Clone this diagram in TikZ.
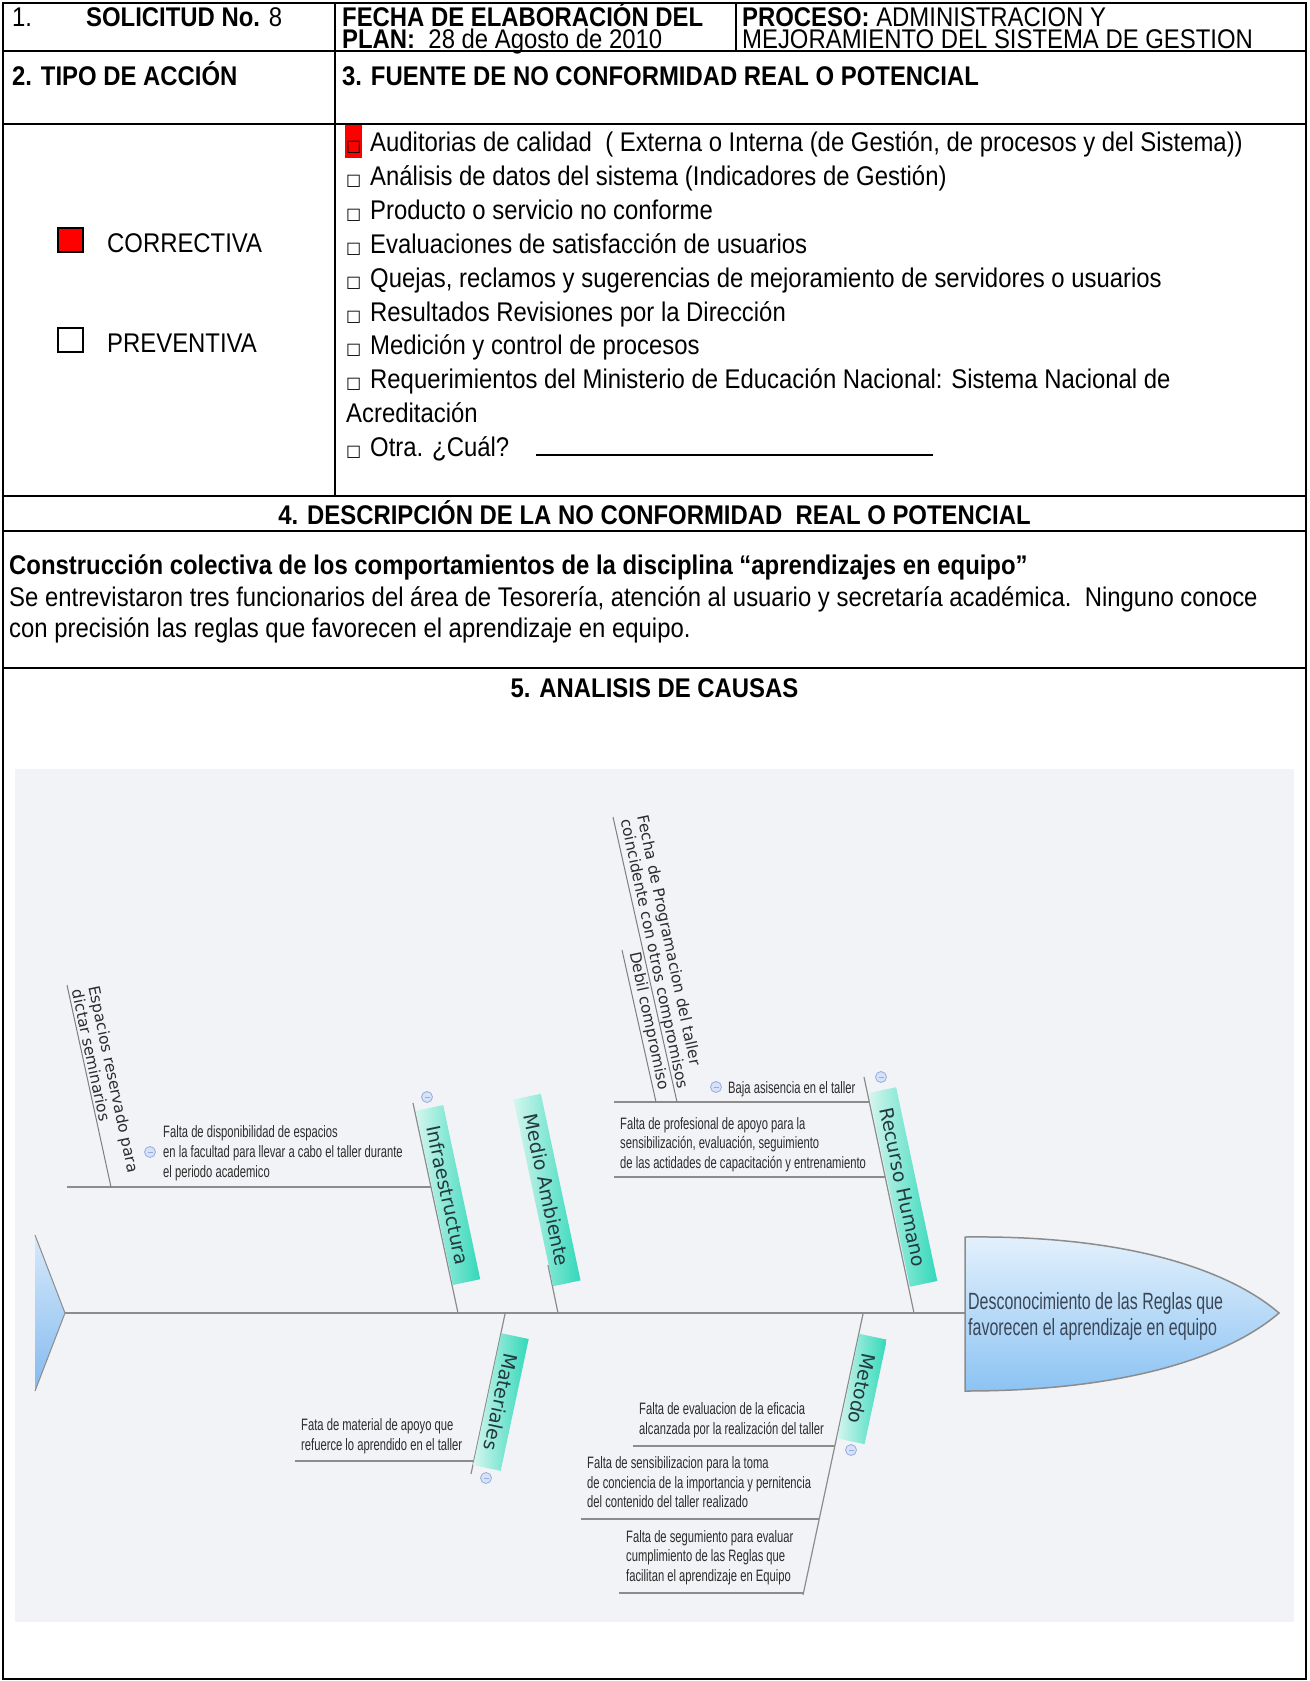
\documentclass[tikz,border=0pt]{standalone}
\usepackage{fontspec}
\setmainfont{Liberation Sans}
\newfontfamily\tabfont{Liberation Sans}[FakeStretch=0.885]
\newfontfamily\condfont{Liberation Sans}[FakeStretch=0.68]
\newfontfamily\dvfont{DejaVu Sans}
\definecolor{bgc}{RGB}{242,243,246}
\definecolor{linec}{RGB}{140,140,140}
\definecolor{txtc}{RGB}{45,45,45}
\definecolor{tealL}{RGB}{212,246,238}
\definecolor{tealD}{RGB}{50,216,186}
\definecolor{lblc}{RGB}{35,57,63}
\definecolor{headT}{RGB}{228,241,252}
\definecolor{headB}{RGB}{140,195,243}
\definecolor{tailT}{RGB}{214,233,251}
\definecolor{tailB}{RGB}{132,186,238}
\definecolor{headtxt}{RGB}{58,70,86}
\definecolor{iconf}{RGB}{214,226,247}
\definecolor{iconb}{RGB}{150,172,222}
\definecolor{boxred}{RGB}{255,0,0}
\begin{document}
\begin{tikzpicture}[x=1pt,y=-1pt,
  tabtxt/.style={font=\tabfont\fontsize{27}{27}\selectfont, inner sep=0pt, anchor=base west},
  tabbold/.style={font=\tabfont\bfseries\fontsize{27}{27}\selectfont, inner sep=0pt, anchor=base west},
  boxsym/.style={font=\dvfont\fontsize{16}{16}\selectfont, inner sep=0pt, anchor=base west},
  tline/.style={line width=2.7pt, draw=black},
  fbsub/.style={font=\condfont\fontsize{16.5}{16.5}\selectfont, text=txtc, inner sep=0pt, anchor=base west},
  fbrot/.style={font=\dvfont\fontsize{15.5}{17}\selectfont, text=txtc, rotate=-78, align=left, inner sep=1pt, anchor=south west},
  fblbl/.style={font=\dvfont\fontsize{19}{19}\selectfont, text=lblc, minimum height=28pt, inner xsep=18pt, inner ysep=0pt, left color=tealL, right color=tealD},
  fbbone/.style={draw=linec, line width=1.2pt},
  fbsubline/.style={draw=linec, line width=2pt},
  fbsubsub/.style={draw=linec!90!black, line width=1pt},
  fbminus/.pic={\draw[draw=iconb, fill=iconf, line width=0.8pt] (0,0) circle (5.5pt); \draw[iconb, line width=0.9pt] (-2.5,0) -- (2.5,0);}
]
\useasboundingbox (0,0) rectangle (1309,1681);
\fill[white] (0,0) rectangle (1309,1681);

% ---------- table lines ----------
\draw[tline] (3,3) rectangle (1306,1679);
\draw[tline] (3,51) -- (1306,51);
\draw[tline] (3,124) -- (1306,124);
\draw[tline] (3,496) -- (1306,496);
\draw[tline] (3,531) -- (1306,531);
\draw[tline] (3,668) -- (1306,668);
\draw[tline] (335,3) -- (335,496);
\draw[tline] (736,3) -- (736,51);

% ---------- row 1 ----------
\node[tabtxt] (n1) at (12,26) {1.};
\node[tabtxt] (sol) at (86,26) {\textbf{SOLICITUD No.} 8};
\node[tabbold] (fe1) at (342,26) {FECHA DE ELABORACIÓN DEL};
\node[tabtxt] (fe2) at (342,48) {\textbf{PLAN:}\ \ 28 de Agosto de 2010};
\node[tabtxt] (pr1) at (742,26) {\textbf{PROCESO:} ADMINISTRACION Y};
\node[tabtxt] (pr2) at (742,48) {MEJORAMIENTO DEL SISTEMA DE GESTION};

% ---------- row 2 ----------
\node[tabbold] (h2) at (12,85) {2. TIPO DE ACCIÓN};
\node[tabbold] (h3) at (342,85) {3. FUENTE DE NO CONFORMIDAD REAL O POTENCIAL};

% ---------- row 3 ----------
\draw[fill=boxred, line width=1.8pt] (58,228) rectangle (83,252);
\node[tabtxt] (corr) at (107,252) {CORRECTIVA};
\draw[fill=white, line width=1.8pt] (58,328) rectangle (83,352);
\node[tabtxt] (prev) at (107,352) {PREVENTIVA};

\fill[boxred] (345,125) rectangle (362,158);
\node[boxsym] (b1) at (346,151) {□};
\node[tabtxt] (i1) at (370,151) {Auditorias de calidad\ \ ( Externa o Interna (de Gestión, de procesos y del Sistema))};
\node[boxsym] (b2) at (346,185) {□};
\node[tabtxt] (i2) at (370,185) {Análisis de datos del sistema (Indicadores de Gestión)};
\node[boxsym] (b3) at (346,219) {□};
\node[tabtxt] (i3) at (370,219) {Producto o servicio no conforme};
\node[boxsym] (b4) at (346,253) {□};
\node[tabtxt] (i4) at (370,253) {Evaluaciones de satisfacción de usuarios};
\node[boxsym] (b5) at (346,287) {□};
\node[tabtxt] (i5) at (370,287) {Quejas, reclamos y sugerencias de mejoramiento de servidores o usuarios};
\node[boxsym] (b6) at (346,321) {□};
\node[tabtxt] (i6) at (370,321) {Resultados Revisiones por la Dirección};
\node[boxsym] (b7) at (346,354) {□};
\node[tabtxt] (i7) at (370,354) {Medición y control de procesos};
\node[boxsym] (b8) at (346,388) {□};
\node[tabtxt] (i8) at (370,388) {Requerimientos del Ministerio de Educación Nacional: Sistema Nacional de};
\node[tabtxt] (i9) at (346,422) {Acreditación};
\node[boxsym] (b10) at (346,456) {□};
\node[tabtxt] (i10) at (370,456) {Otra. ¿Cuál?};
\coordinate (ulA) at (536,455);
\coordinate (ulB) at (933,455);
\draw[line width=2pt] (ulA) -- (ulB);

% ---------- section 4 ----------
\node[tabbold, anchor=base] (h4) at (654.5,524) {4. DESCRIPCIÓN DE LA NO CONFORMIDAD\ \ REAL O POTENCIAL};
\node[tabbold] (d1) at (9,574) {Construcción colectiva de los comportamientos de la disciplina “aprendizajes en equipo”};
\node[tabtxt] (d2) at (9,606) {Se entrevistaron tres funcionarios del área de Tesorería, atención al usuario y secretaría académica.\ \ Ninguno conoce};
\node[tabtxt] (d3) at (9,637) {con precisión las reglas que favorecen el aprendizaje en equipo.};

% ---------- section 5 ----------
\node[tabbold, anchor=base] (h5) at (654.5,697) {5. ANALISIS DE CAUSAS};

% ---------- fishbone ----------
\fill[bgc] (15,769) rectangle (1294,1622);

% tail
\coordinate (tailT) at (35,1235);
\coordinate (tailA) at (65,1313);
\coordinate (tailB) at (35,1391);
\shade[top color=tailT, bottom color=tailB] (tailT) -- (tailA) -- (tailB) -- cycle;
\draw[draw=linec, line width=1pt] (tailT) -- (tailA) -- (tailB);

% head
\coordinate (headL) at (965,1313);
\shade[top color=headT, bottom color=headB, draw=linec, line width=1.5pt]
  (965,1237) .. controls (1140,1235) and (1235,1275) .. (1279,1313)
  .. controls (1235,1351) and (1140,1391) .. (965,1391) -- cycle;
\node[font=\condfont\fontsize{23.5}{23.5}\selectfont, text=headtxt, inner sep=0pt, anchor=base west] (ht1) at (968,1309) {Desconocimiento de las Reglas que};
\node[font=\condfont\fontsize{23.5}{23.5}\selectfont, text=headtxt, inner sep=0pt, anchor=base west] (ht2) at (968,1335) {favorecen el aprendizaje en equipo};

% spine
\draw[draw=linec, line width=2pt] (tailA) -- (headL);

% bone coordinates
\coordinate (S1) at (458,1313); \coordinate (T1) at (413,1103);
\coordinate (S2) at (558,1313); \coordinate (T2) at (548,1265);
\coordinate (S3) at (914,1313); \coordinate (T3) at (864,1077);
\coordinate (S4) at (505,1314); \coordinate (B4) at (471,1474);
\coordinate (S5) at (863,1314); \coordinate (B5) at (803,1595);
\draw[fbbone] (S1) -- (T1);
\draw[fbbone] (S2) -- (T2);
\draw[fbbone] (S3) -- (T3);
\draw[fbbone] (S4) -- (B4);
\draw[fbbone] (S5) -- (B5);

% sub-cause lines
\coordinate (inA) at (67,1187);   \coordinate (inB) at (431,1187);
\coordinate (baA) at (614,1102);  \coordinate (baB) at (869,1102);
\coordinate (prA) at (614,1177);  \coordinate (prB) at (885,1177);
\coordinate (maA) at (295,1461);  \coordinate (maB) at (474,1461);
\coordinate (m1A) at (633,1446);  \coordinate (m1B) at (835,1446);
\coordinate (m2A) at (581,1519);  \coordinate (m2B) at (819,1519);
\coordinate (m3A) at (619,1593);  \coordinate (m3B) at (804,1593);
\draw[fbsubline] (inA) -- (inB);
\draw[fbsubline] (baA) -- (baB);
\draw[fbsubline] (prA) -- (prB);
\draw[fbsubline] (maA) -- (maB);
\draw[fbsubline] (m1A) -- (m1B);
\draw[fbsubline] (m2A) -- (m2B);
\draw[fbsubline] (m3A) -- (m3B);

% sub-sub lines
\coordinate (esB) at (111,1187); \coordinate (esT) at (67,985);
\coordinate (feB) at (677,1102); \coordinate (feT) at (613,817);
\coordinate (deB) at (656,1102); \coordinate (deT) at (622,950);
\draw[fbsubsub] (esB) -- (esT);
\draw[fbsubsub] (feB) -- (feT);
\draw[fbsubsub] (deB) -- (deT);

% rotated texts
\node[fbrot] (esp) at (70,990) {Espacios reservado para\\dictar seminarios};
\node[fbrot] (fec) at (616,820) {Fecha de Programacion del taller\\coincidente con otros compromisos};
\node[fbrot] (deb) at (625,953) {Debil compromiso};

% category labels
\node[fblbl, rotate=-78] (infra) at (448,1195) {Infraestructura};
\node[fblbl, rotate=-78] (medio) at (547,1190) {Medio Ambiente};
\node[fblbl, rotate=-78] (recur) at (903,1187) {Recurso Humano};
\node[fblbl, rotate=-102] (mater) at (501,1402) {Materiales};
\node[fblbl, rotate=-102] (metod) at (862,1389) {Metodo};

% sub-cause texts
\node[fbsub] (fd1) at (163,1137) {Falta de disponibilidad de espacios};
\node[fbsub] (fd2) at (163,1157) {en la facultad para llevar a cabo el taller durante};
\node[fbsub] (fd3) at (163,1177) {el periodo academico};
\node[fbsub] (baja) at (728,1093) {Baja asisencia en el taller};
\node[fbsub] (fp1) at (620,1129) {Falta de profesional de apoyo para la};
\node[fbsub] (fp2) at (620,1148) {sensibilización, evaluación, seguimiento};
\node[fbsub] (fp3) at (620,1168) {de las actidades de capacitación y entrenamiento};
\node[fbsub] (fm1) at (301,1430) {Fata de material de apoyo que};
\node[fbsub] (fm2) at (301,1450) {refuerce lo aprendido en el taller};
\node[fbsub] (e1) at (639,1414) {Falta de evaluacion de la eficacia};
\node[fbsub] (e2) at (639,1434) {alcanzada por la realización del taller};
\node[fbsub] (s1) at (587,1468) {Falta de sensibilizacion para la toma};
\node[fbsub] (s2) at (587,1488) {de conciencia de la importancia y pernitencia};
\node[fbsub] (s3) at (587,1507) {del contenido del taller realizado};
\node[fbsub] (g1) at (626,1542) {Falta de segumiento para evaluar};
\node[fbsub] (g2) at (626,1561) {cumplimiento de las Reglas que};
\node[fbsub] (g3) at (626,1581) {facilitan el aprendizaje en Equipo};

% collapse icons
\pic at (427,1097) {fbminus};
\pic at (881,1077) {fbminus};
\pic at (150,1152) {fbminus};
\pic at (716,1087) {fbminus};
\pic at (486,1478) {fbminus};
\pic at (851,1450) {fbminus};
\end{tikzpicture}
\end{document}
